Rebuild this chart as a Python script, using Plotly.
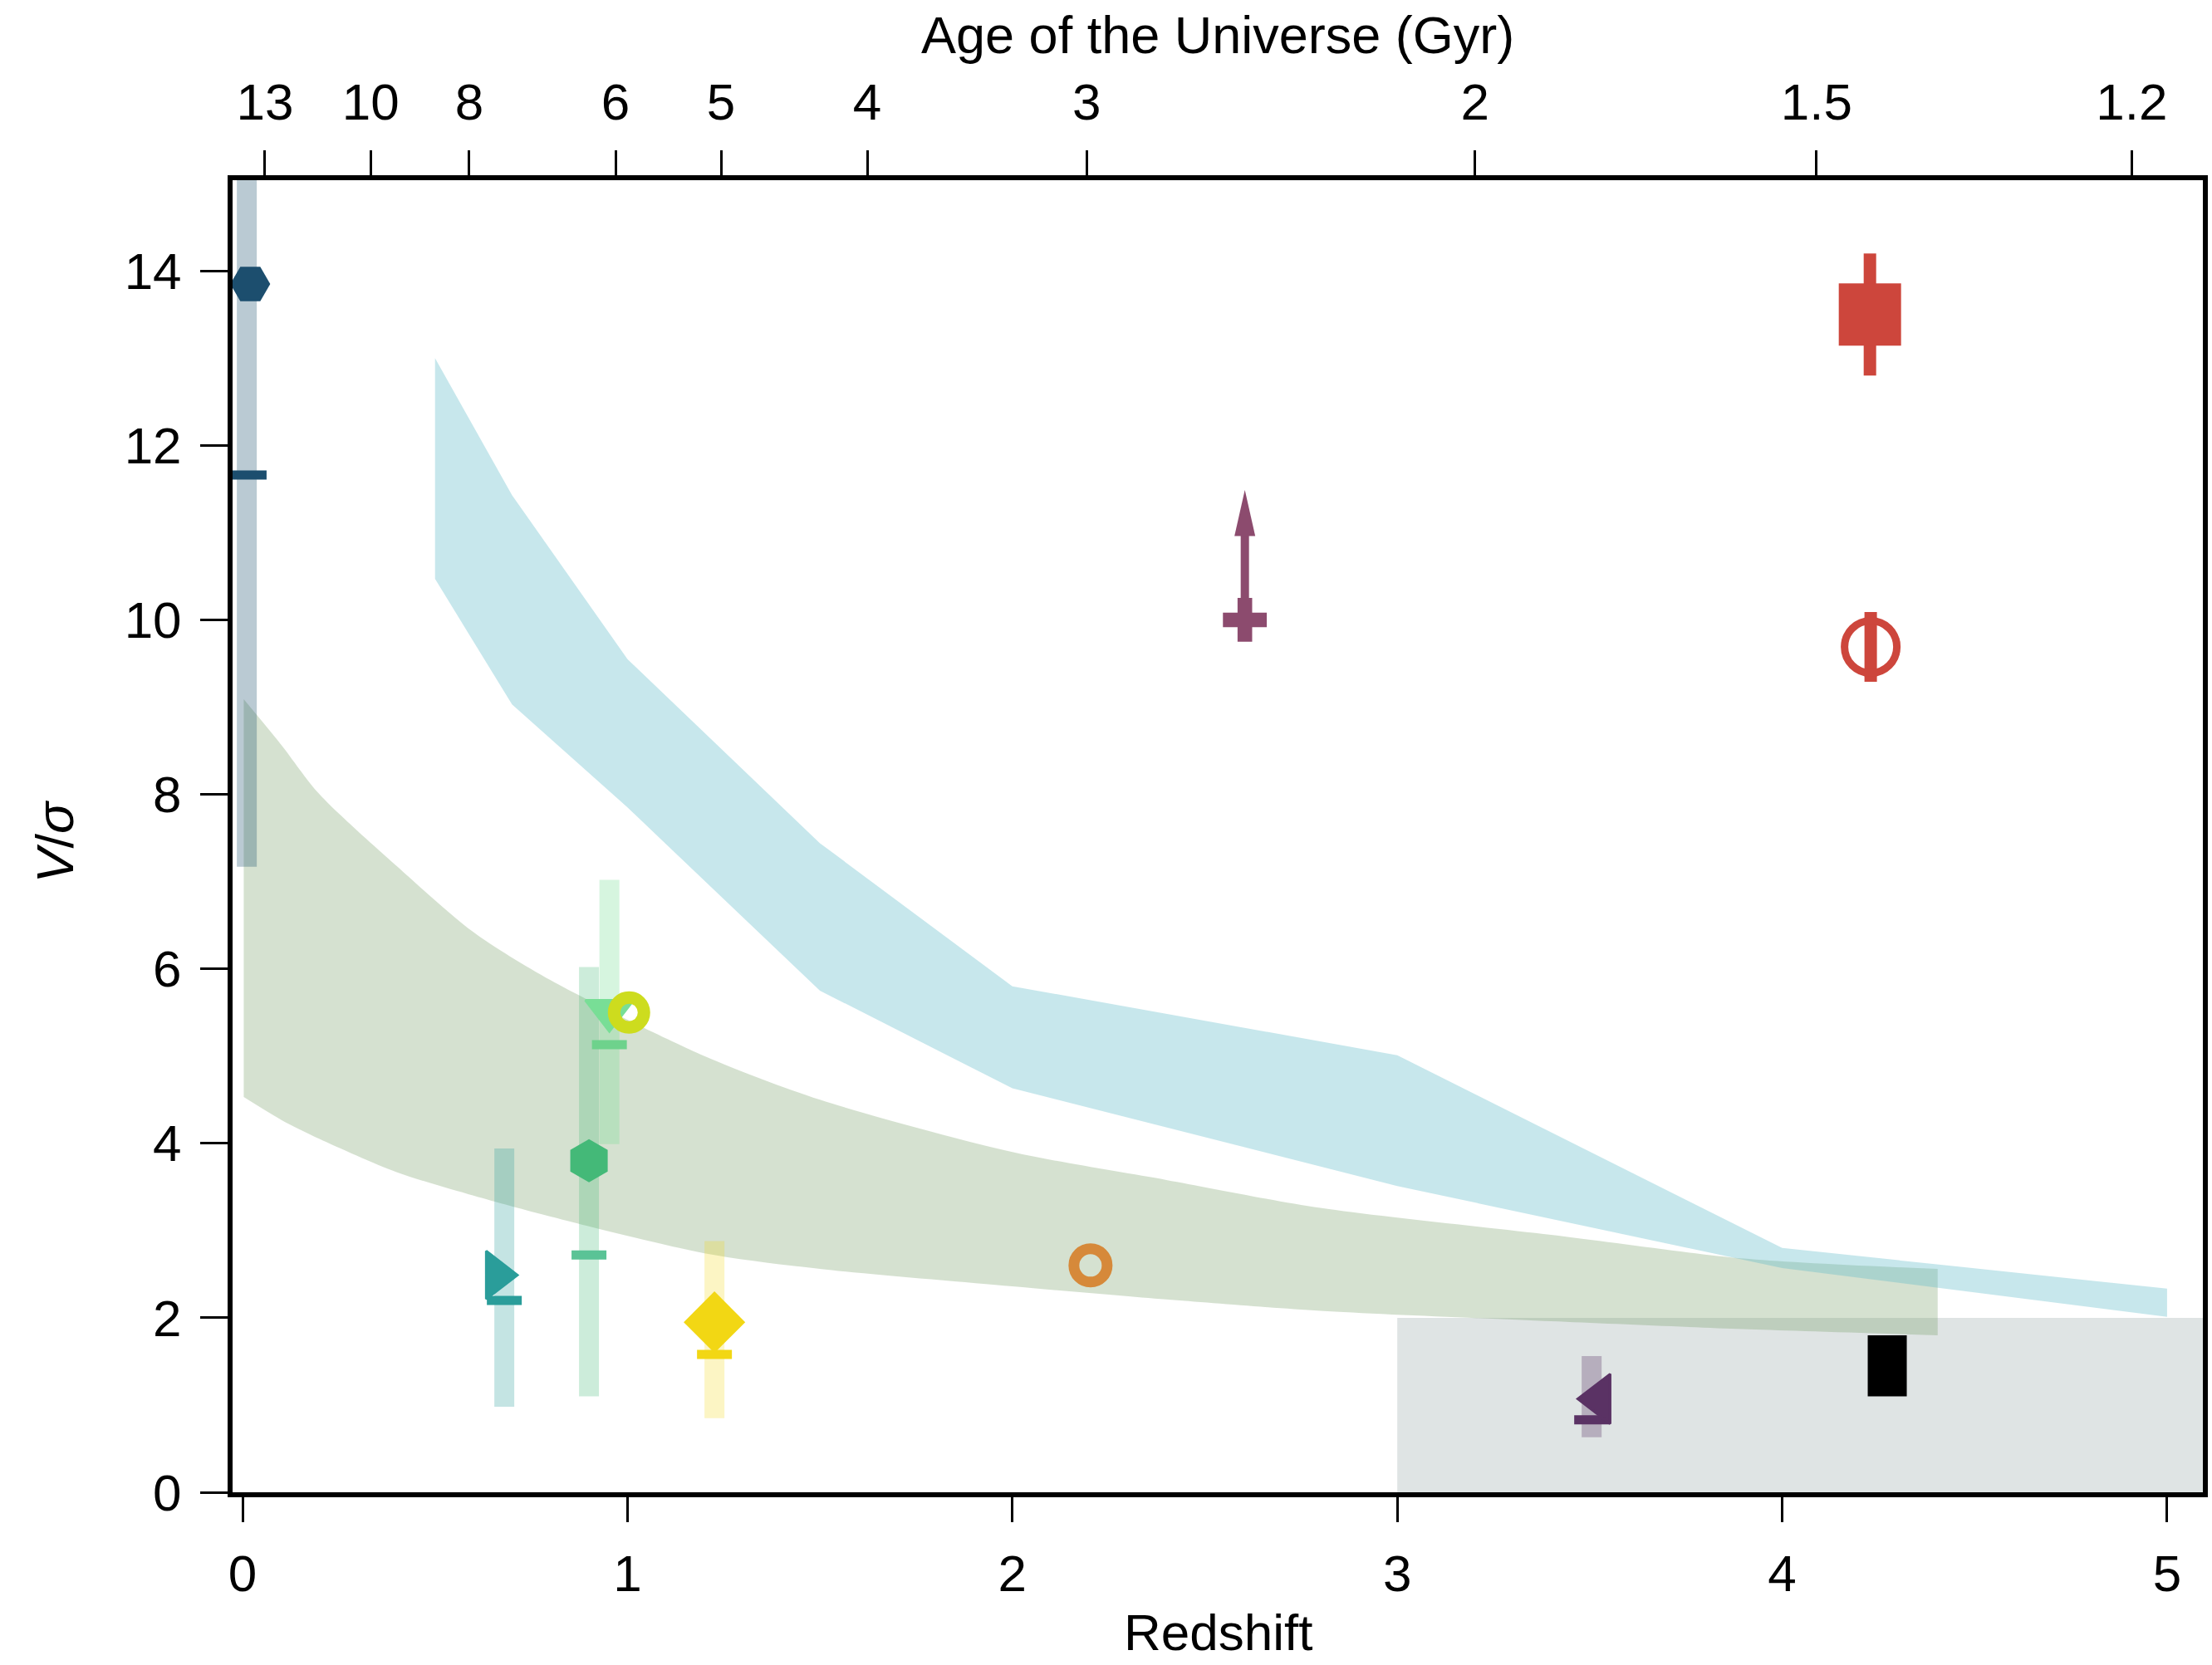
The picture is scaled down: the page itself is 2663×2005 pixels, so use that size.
import plotly.graph_objects as go

# ---------------- data ----------------
z_ticks = [0, 1, 2, 3, 4, 5]
vsig_ticks = [0, 2, 4, 6, 8, 10, 12, 14]
age_tick_z = [0.058, 0.333, 0.589, 0.969, 1.243, 1.623, 2.193, 3.202, 4.089, 4.908]
age_tick_labels = ["13", "10", "8", "6", "5", "4", "3", "2", "1.5", "1.2"]

# simulation band (light blue)
blue_z = [0.5, 0.7, 1.0, 1.5, 2.0, 3.0, 4.0, 5.0]
blue_hi = [13.0, 11.43, 9.55, 7.44, 5.80, 5.01, 2.80, 2.335]
blue_lo = [10.47, 9.03, 7.85, 5.75, 4.63, 3.51, 2.57, 2.01]

# model band (sage green)
green_z = [0.003, 0.1, 0.2, 0.4, 0.6, 0.8, 1.2, 1.5, 2.0, 2.4, 2.8, 3.4, 3.9, 4.404]
green_hi = [9.09, 8.57, 8.0, 7.18, 6.42, 5.87, 5.0, 4.5, 3.9, 3.58, 3.26, 2.95, 2.68, 2.56]
green_lo = [4.53, 4.27, 4.05, 3.67, 3.40, 3.16, 2.74, 2.56, 2.36, 2.21, 2.08, 1.96, 1.87, 1.80]

# grey region (dispersion dominated, z > 3)
grey_z = [3.0, 5.3]
grey_v = [0.0, 2.0]

# local sample (z ~ 0)
local_z, local_v, local_dash, local_lo, local_hi = 0.02, 13.85, 11.66, 7.17, 16.0
# other samples
teal_z, teal_v, teal_dash, teal_lo, teal_hi = 0.68, 2.49, 2.20, 0.98, 3.94
hex_z, hex_v, hex_dash, hex_lo, hex_hi = 0.90, 3.80, 2.72, 1.10, 6.02
tdn_z, tdn_v, tdn_dash, tdn_lo, tdn_hi = 0.953, 5.52, 5.13, 3.99, 7.02
ygc_z, ygc_v = 1.004, 5.50
dia_z, dia_v, dia_dash, dia_lo, dia_hi = 1.226, 1.95, 1.58, 0.85, 2.88
org_z, org_v = 2.203, 2.60
crs_z, crs_v, crs_limit = 2.604, 10.0, 11.49
sq_z, sq_v, sq_lo, sq_hi = 4.228, 13.5, 12.8, 14.2
rc_z, rc_v, rc_lo, rc_hi = 4.23, 9.69, 9.29, 10.09
tl_z, tl_v, tl_dash, tl_lo, tl_hi = 3.505, 1.07, 0.83, 0.63, 1.56
blk_z, blk_lo, blk_hi = 4.273, 1.10, 1.80

# ---------------- styles ----------------
FONT = "Liberation Sans, Arial, sans-serif"
C_DBLUE = "#1c4e6e"
C_TEAL = "#2a9d9a"
C_HEX = "#44b978"
C_TDN = "#78de96"
C_YGC = "#cddc1e"
C_YEL = "#f2d714"
C_ORG = "#d6893a"
C_PCROSS = "#8c4b6e"
C_RED = "#cd463c"
C_PURP = "#5a3264"

fig = go.Figure()


def add(tr):
    tr.update(showlegend=False, hoverinfo="skip")
    fig.add_trace(tr)


# grey region
add(go.Scatter(x=[grey_z[0], grey_z[1], grey_z[1], grey_z[0]],
               y=[grey_v[0], grey_v[0], grey_v[1], grey_v[1]],
               fill="toself", fillcolor="#dfe4e4", mode="none"))
# green band (smooth edges)
add(go.Scatter(x=green_z, y=green_lo, mode="lines",
               line=dict(width=0, shape="spline", smoothing=0.8, color="rgba(0,0,0,0)")))
add(go.Scatter(x=green_z, y=green_hi, mode="lines", fill="tonexty",
               fillcolor="rgba(115,155,100,0.30)",
               line=dict(width=0, shape="spline", smoothing=0.8, color="rgba(0,0,0,0)")))
# blue band
add(go.Scatter(x=blue_z + blue_z[::-1], y=blue_hi + blue_lo[::-1],
               fill="toself", fillcolor="rgba(95,185,200,0.35)", mode="none"))


def bar(z, lo, hi, color, width=24):
    add(go.Scatter(x=[z, z], y=[lo, hi], mode="lines",
                   line=dict(color=color, width=width)))


def dash(z, v, color):
    add(go.Scatter(x=[z], y=[v], mode="markers",
                   marker=dict(symbol="line-ew", size=30, color=color,
                               line=dict(color=color, width=11))))


def mark(z, v, symbol, size, color, lw=0):
    add(go.Scatter(x=[z], y=[v], mode="markers",
                   marker=dict(symbol=symbol, size=size, color=color,
                               line=dict(width=lw, color=color))))


def ring(z, v, size, color, lw):
    add(go.Scatter(x=[z], y=[v], mode="markers",
                   marker=dict(symbol="circle-open", size=size, color=color,
                               line=dict(color=color, width=lw))))


# translucent thick error bars
bar(local_z - 0.009, local_lo, local_hi, "rgba(28,78,110,0.30)")
bar(teal_z, teal_lo, teal_hi, "rgba(42,157,154,0.28)")
bar(hex_z, hex_lo, hex_hi, "rgba(68,185,120,0.27)")
bar(tdn_z, tdn_lo, tdn_hi, "rgba(120,222,150,0.30)")
bar(dia_z, dia_lo, dia_hi, "rgba(242,215,20,0.25)")
bar(tl_z, tl_lo, tl_hi, "rgba(90,50,100,0.30)")

# solid error bars
bar(sq_z, sq_lo, sq_hi, C_RED, width=15)
bar(rc_z, rc_lo, rc_hi, C_RED, width=15)
# black box
bar(blk_z, blk_lo, blk_hi, "#000000", width=47)

# dashes (second estimates)
dash(local_z - 0.003, local_dash, C_DBLUE)
dash(teal_z, teal_dash, C_TEAL)
dash(hex_z, hex_dash, "#5ac396")
dash(tdn_z, tdn_dash, "#6ed28c")
dash(dia_z, dia_dash, C_YEL)
dash(tl_z, tl_dash, C_PURP)

# lower-limit arrow
head_len = 0.53
head_half = 0.027
add(go.Scatter(x=[crs_z, crs_z], y=[crs_v, crs_limit - head_len + 0.02], mode="lines",
               line=dict(color=C_PCROSS, width=10)))
add(go.Scatter(x=[crs_z - head_half, crs_z + head_half, crs_z, crs_z - head_half],
               y=[crs_limit - head_len, crs_limit - head_len, crs_limit, crs_limit - head_len],
               fill="toself", fillcolor=C_PCROSS, mode="none"))

# markers
mark(local_z, local_v, "hexagon2", 48, C_DBLUE)
mark(teal_z - 0.02, teal_v, "triangle-right", 50, C_TEAL, 3)
mark(hex_z, hex_v, "hexagon", 52, C_HEX)
mark(tdn_z, tdn_v, "triangle-down", 50, C_TDN, 3)
ring(ygc_z, ygc_v, 36, C_YGC, 15)
mark(dia_z, dia_v, "diamond", 57, C_YEL)
ring(org_z, org_v, 40, C_ORG, 13)
mark(crs_z, crs_v, "cross", 44, C_PCROSS)
mark(sq_z, sq_v, "square", 75, C_RED)
ring(rc_z, rc_v, 63, C_RED, 9)
mark(tl_z + 0.02, tl_v, "triangle-left", 52, C_PURP, 3)

# invisible trace to activate the top axis
fig.add_trace(go.Scatter(x=[age_tick_z[0]], y=[0], xaxis="x2", mode="markers",
                         marker=dict(opacity=0), showlegend=False, hoverinfo="skip"))

XR = [-0.026, 5.093]
axis_common = dict(showline=True, linewidth=6, linecolor="black", ticks="outside",
                   tickwidth=3, tickcolor="black", showgrid=False, zeroline=False,
                   tickfont=dict(family=FONT, size=62, color="black"))

fig.update_layout(
    width=2663, height=2005,
    margin=dict(l=280, r=5, t=217, b=208),
    paper_bgcolor="white", plot_bgcolor="white",
    showlegend=False,
    xaxis=dict(range=XR, tickvals=z_ticks, ticklen=30, ticklabelstandoff=9, **axis_common),
    xaxis2=dict(range=XR, overlaying="x", side="top", tickvals=age_tick_z,
                ticktext=age_tick_labels, ticklen=30, ticklabelstandoff=12, **axis_common),
    yaxis=dict(range=[0, 15.04], tickvals=vsig_ticks, ticklen=33, mirror=True,
               ticklabelstandoff=10, **axis_common),
    annotations=[
        dict(text="Redshift", xref="paper", yref="paper", x=0.5, y=-0.1065,
             xanchor="center", yanchor="middle", showarrow=False,
             font=dict(family=FONT, size=62, color="black")),
        dict(text="Age of the Universe (Gyr)", xref="paper", yref="paper", x=0.5, y=1.1108,
             xanchor="center", yanchor="middle", showarrow=False,
             font=dict(family=FONT, size=63, color="black")),
        dict(text="<i>V</i>/<i>σ</i>", xref="paper", yref="paper", x=-0.0904, y=0.4956,
             xanchor="center", yanchor="middle", showarrow=False, textangle=-90,
             font=dict(family=FONT, size=63, color="black")),
    ],
)

fig.write_html("out.html")
